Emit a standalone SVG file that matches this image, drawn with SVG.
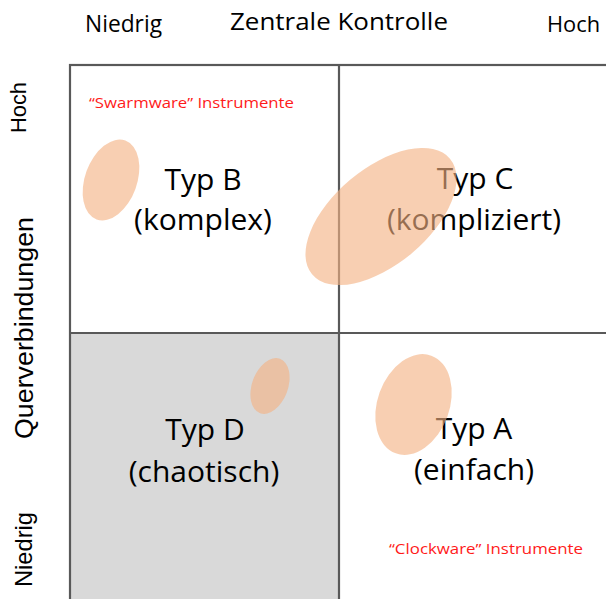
<svg xmlns="http://www.w3.org/2000/svg" width="606" height="599" viewBox="0 0 606 599">
<style>
.ax{font-family:"Open Sans","Liberation Sans",sans-serif;fill:#000}
.vl{font-family:"Liberation Sans",Arial,sans-serif;fill:#000}
.big{font-family:"Open Sans","Liberation Sans",sans-serif;font-size:30px;fill:#000;text-anchor:middle}
.red{font-family:"Open Sans","Liberation Sans",sans-serif;font-size:15px;fill:#ff1a1a}
.grid{stroke:#595959;stroke-width:2.2;fill:none}
.blob{fill:#f4b183;fill-opacity:0.62}
</style>
<rect width="606" height="599" fill="#ffffff"/>
<g id="quadrant-D-bg"><rect x="70" y="333" width="269" height="270" fill="#d9d9d9"/></g>
<g id="connectors">
<rect class="grid" x="70" y="65" width="560" height="560"/>
<line class="grid" x1="339" y1="65" x2="339" y2="605"/>
<line class="grid" x1="70" y1="333" x2="610" y2="333"/>
</g>
<g id="axis-top">
<text class="ax" x="85" y="32" font-size="23" textLength="77" lengthAdjust="spacingAndGlyphs">Niedrig</text>
<text class="ax" x="230" y="29.5" font-size="24.5" textLength="218" lengthAdjust="spacingAndGlyphs">Zentrale Kontrolle</text>
<text class="ax" x="547" y="32" font-size="22.5" textLength="53" lengthAdjust="spacingAndGlyphs">Hoch</text>
</g>
<g id="axis-left">
<text class="vl" transform="translate(26,107.5) rotate(-90)" text-anchor="middle" font-size="22" textLength="51" lengthAdjust="spacingAndGlyphs">Hoch</text>
<text class="vl" transform="translate(33,328) rotate(-90)" text-anchor="middle" font-size="26" textLength="222" lengthAdjust="spacingAndGlyphs">Querverbindungen</text>
<text class="vl" transform="translate(32,549.5) rotate(-90)" text-anchor="middle" font-size="24" textLength="75" lengthAdjust="spacingAndGlyphs">Niedrig</text>
</g>
<g id="node-B">
<text class="big" x="203" y="190">Typ B</text>
<text class="big" x="203" y="230">(komplex)</text>
<text class="red" x="89" y="108" textLength="205" lengthAdjust="spacingAndGlyphs">“Swarmware” Instrumente</text>
</g>
<g id="node-C">
<text class="big" x="475" y="189">Typ C</text>
<text class="big" x="474" y="230">(kompliziert)</text>
</g>
<g id="node-D">
<text class="big" x="205" y="440">Typ D</text>
<text class="big" x="204" y="482">(chaotisch)</text>
</g>
<g id="node-A">
<text class="big" x="474" y="439">Typ A</text>
<text class="big" x="474" y="480">(einfach)</text>
<text class="red" x="389" y="554" textLength="194" lengthAdjust="spacingAndGlyphs">“Clockware” Instrumente</text>
</g>
<g id="blobs">
<ellipse class="blob" cx="111" cy="180" rx="26" ry="42" transform="rotate(20 111 180)"/>
<ellipse class="blob" cx="381" cy="216.5" rx="90" ry="48" transform="rotate(-40 381 216.5)"/>
<ellipse class="blob" cx="270" cy="386" rx="18" ry="29" transform="rotate(20 270 386)"/>
<ellipse class="blob" cx="413.5" cy="404.5" rx="36" ry="52" transform="rotate(20 413.5 404.5)"/>
</g>
</svg>
